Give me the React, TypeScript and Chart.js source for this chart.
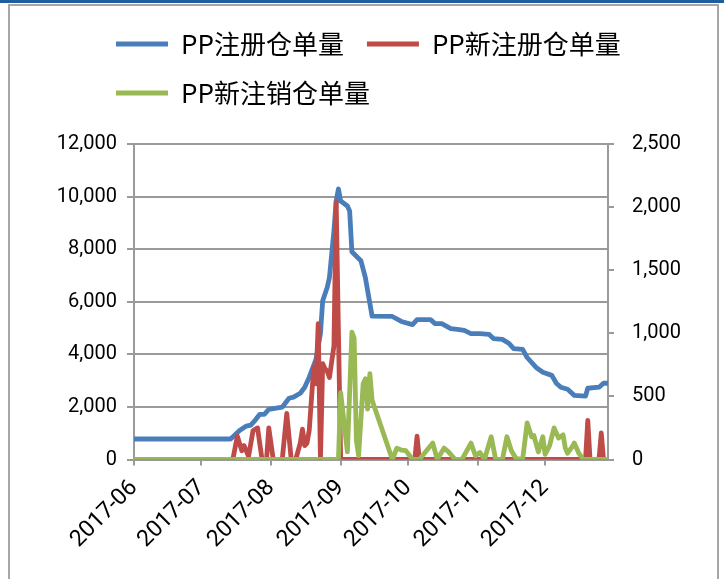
import React, { useEffect, useRef } from "react";
import { Chart, registerables } from "chart.js";

Chart.register(...registerables);

// ---- data ----
const monthStarts = ["2017-06-01", "2017-07-01", "2017-08-01", "2017-09-01", "2017-10-01", "2017-11-01", "2017-12-01"];
const monthLabels = ["2017-06", "2017-07", "2017-08", "2017-09", "2017-10", "2017-11", "2017-12"];
const axisStart = "2017-06-01";
const axisEnd = "2017-12-29";

const leftTickLabels = ["0", "2,000", "4,000", "6,000", "8,000", "10,000", "12,000"];
const rightTickLabels = ["0", "500", "1,000", "1,500", "2,000", "2,500"];

const seriesNames = ["PP注册仓单量", "PP新注册仓单量", "PP新注销仓单量"];

// PP注册仓单量 (left axis)
const regDates = [
  "2017-06-01", "2017-07-14", "2017-07-18", "2017-07-21", "2017-07-23", "2017-07-25", "2017-07-27", "2017-07-29",
  "2017-07-31", "2017-08-06", "2017-08-09", "2017-08-11", "2017-08-14", "2017-08-16", "2017-08-18", "2017-08-20",
  "2017-08-21", "2017-08-23", "2017-08-24", "2017-08-26", "2017-08-27", "2017-08-29", "2017-08-30", "2017-08-31",
  "2017-09-01", "2017-09-04", "2017-09-05", "2017-09-06", "2017-09-10", "2017-09-12", "2017-09-13", "2017-09-15",
  "2017-09-24", "2017-09-28", "2017-10-03", "2017-10-05", "2017-10-11", "2017-10-13", "2017-10-16", "2017-10-20",
  "2017-10-23", "2017-10-26", "2017-10-29", "2017-11-02", "2017-11-06", "2017-11-08", "2017-11-12", "2017-11-15",
  "2017-11-17", "2017-11-21", "2017-11-23", "2017-11-27", "2017-11-30", "2017-12-04", "2017-12-06", "2017-12-08",
  "2017-12-11", "2017-12-14", "2017-12-19", "2017-12-20", "2017-12-25", "2017-12-27", "2017-12-29",
];
const regValues = [
  780, 780, 1100, 1270, 1310, 1500, 1720, 1720,
  1910, 1990, 2330, 2370, 2520, 2750, 3130, 3580,
  3810, 4790, 6040, 6540, 6920, 8700, 9830, 10290,
  9830, 9640, 9450, 7900, 7560, 6920, 6420, 5450,
  5440, 5250, 5130, 5320, 5320, 5170, 5170, 4980,
  4950, 4910, 4790, 4790, 4760, 4600, 4570, 4410,
  4220, 4190, 3880, 3500, 3320, 3200, 2900, 2750,
  2670, 2440, 2410, 2710, 2750, 2900, 2900,
];

// PP新注册仓单量 (right axis)
const newRegDates = [
  "2017-06-01", "2017-07-15", "2017-07-17", "2017-07-19", "2017-07-20", "2017-07-22", "2017-07-24", "2017-07-26",
  "2017-07-28", "2017-07-30", "2017-07-31", "2017-08-02", "2017-08-06", "2017-08-08", "2017-08-10", "2017-08-12",
  "2017-08-14", "2017-08-15", "2017-08-16", "2017-08-17", "2017-08-18", "2017-08-20", "2017-08-21", "2017-08-22",
  "2017-08-23", "2017-08-24", "2017-08-25", "2017-08-26", "2017-08-27", "2017-08-29", "2017-08-30", "2017-09-01",
  "2017-10-04", "2017-10-05", "2017-10-06", "2017-12-19", "2017-12-20", "2017-12-21", "2017-12-25", "2017-12-26",
  "2017-12-27", "2017-12-29",
];
const newRegValues = [
  0, 0, 185, 70, 110, 25, 230, 250,
  0, 0, 250, 0, 0, 365, 0, 0,
  130, 240, 110, 130, 230, 730, 600, 1076,
  0, 760, 720, 700, 650, 900, 2040, 0,
  0, 185, 0, 0, 310, 0, 0, 210,
  0, 0,
];

// PP新注销仓单量 (right axis)
const cancelDates = [
  "2017-06-01", "2017-08-31", "2017-09-01", "2017-09-02", "2017-09-04", "2017-09-06", "2017-09-07", "2017-09-08",
  "2017-09-09", "2017-09-11", "2017-09-12", "2017-09-13", "2017-09-14", "2017-09-15", "2017-09-24", "2017-09-26",
  "2017-09-28", "2017-09-30", "2017-10-03", "2017-10-06", "2017-10-12", "2017-10-14", "2017-10-17", "2017-10-19",
  "2017-10-22", "2017-10-25", "2017-10-29", "2017-10-31", "2017-11-02", "2017-11-04", "2017-11-07", "2017-11-09",
  "2017-11-12", "2017-11-14", "2017-11-16", "2017-11-18", "2017-11-21", "2017-11-23", "2017-11-25", "2017-11-26",
  "2017-11-28", "2017-11-30", "2017-12-01", "2017-12-03", "2017-12-05", "2017-12-07", "2017-12-09", "2017-12-10",
  "2017-12-11", "2017-12-13", "2017-12-14", "2017-12-16", "2017-12-18", "2017-12-29",
];
const cancelValues = [
  0, 0, 530, 370, 60, 1010, 960, 150,
  30, 600, 640, 400, 680, 470, 0, 90,
  75, 70, 0, 0, 130, 0, 90, 60,
  0, 0, 130, 30, 55, 0, 180, 0,
  0, 180, 70, 10, 0, 290, 180, 190,
  60, 180, 40, 110, 250, 170, 195, 90,
  50, 100, 130, 50, 0, 0,
];

// ---- helpers ----
const BASE = (() => {
  const [y, m, d] = axisStart.split("-").map(Number);
  return Date.UTC(y, m - 1, d);
})();
const toDay = (s: string) => {
  const [y, m, d] = s.split("-").map(Number);
  return (Date.UTC(y, m - 1, d) - BASE) / 86400000;
};
const pts = (dates: string[], vals: number[]) => dates.map((d, i) => ({ x: toDay(d), y: vals[i] }));

const GRID = "#9a9a9a";
const NUM_FONT = { family: 'Roboto, "Liberation Sans", sans-serif', size: 20 };
const LEGEND_SHIFT = 93;

const legendShift = {
  id: "legendShift",
  afterLayout(chart: any) {
    const lg = chart.legend;
    if (lg) {
      lg.left += LEGEND_SHIFT;
      lg.right += LEGEND_SHIFT;
    }
  },
};

export default function App() {
  const ref = useRef<HTMLCanvasElement>(null);

  useEffect(() => {
    const monthDays = monthStarts.map(toDay);
    const chart = new Chart(ref.current as HTMLCanvasElement, {
      type: "line",
      data: {
        datasets: [
          {
            label: seriesNames[0],
            data: pts(regDates, regValues),
            borderColor: "#4A7EBB",
            backgroundColor: "#4A7EBB",
            borderWidth: 4.8,
            yAxisID: "y",
            order: 3,
          },
          {
            label: seriesNames[1],
            data: pts(newRegDates, newRegValues),
            borderColor: "#BE4B48",
            backgroundColor: "#BE4B48",
            borderWidth: 4.8,
            yAxisID: "y1",
            order: 2,
          },
          {
            label: seriesNames[2],
            data: pts(cancelDates, cancelValues),
            borderColor: "#98B954",
            backgroundColor: "#98B954",
            borderWidth: 4.8,
            yAxisID: "y1",
            order: 1,
          },
        ],
      },
      plugins: [legendShift],
      options: {
        animation: false,
        responsive: false,
        maintainAspectRatio: false,
        elements: {
          line: { tension: 0, borderCapStyle: "round", borderJoinStyle: "round" },
          point: { radius: 0, hoverRadius: 0 },
        },
        layout: { padding: { top: 8, left: 0, right: 10, bottom: 0 } },
        plugins: {
          legend: {
            position: "top",
            align: "start",
            labels: {
              usePointStyle: true,
              pointStyle: "line",
              pointStyleWidth: 52,
              padding: 23,
              color: "#000",
              font: { family: '"Noto Sans CJK SC", sans-serif', size: 26 },
              sort: (a: any, b: any) => a.datasetIndex - b.datasetIndex,
            },
          },
          subtitle: {
            display: true,
            text: "",
            position: "top",
            weight: 500,
            font: { size: 10 },
            padding: { top: 16, bottom: 0 },
          },
          tooltip: { enabled: false },
        },
        scales: {
          x: {
            type: "linear",
            min: toDay(axisStart),
            max: toDay(axisEnd),
            afterBuildTicks: (axis: any) => {
              axis.ticks = monthDays.map((v) => ({ value: v }));
            },
            afterFit: (axis: any) => {
              axis.height = 119.5;
            },
            ticks: {
              autoSkip: false,
              minRotation: 45,
              maxRotation: 45,
              padding: 9,
              color: "#000",
              font: { family: 'Roboto, "Liberation Sans", sans-serif', size: 23 },
              callback: (value: any) => {
                const i = monthDays.indexOf(Number(value));
                return i >= 0 ? monthLabels[i] : "";
              },
            },
            grid: { drawOnChartArea: false, drawTicks: true, tickLength: 6, color: GRID, lineWidth: 2 },
            border: { color: GRID, width: 2 },
          },
          y: {
            position: "left",
            min: 0,
            max: 12000,
            afterFit: (axis: any) => {
              axis.width = 134;
            },
            ticks: {
              stepSize: 2000,
              padding: 10,
              color: "#000",
              font: NUM_FONT,
              callback: (_v: any, i: number) => leftTickLabels[i],
            },
            grid: { color: GRID, lineWidth: 2, tickLength: 7 },
            border: { color: GRID, width: 2 },
          },
          y1: {
            position: "right",
            min: 0,
            max: 2500,
            afterFit: (axis: any) => {
              axis.width = 106;
            },
            ticks: {
              stepSize: 500,
              padding: 18,
              color: "#000",
              font: NUM_FONT,
              callback: (_v: any, i: number) => rightTickLabels[i],
            },
            grid: { drawOnChartArea: false, color: GRID, lineWidth: 2, tickLength: 6 },
            border: { color: GRID, width: 2 },
          },
        },
      },
    } as any);
    return () => chart.destroy();
  }, []);

  return (
    <div style={{ position: "fixed", left: 0, top: 0, width: 724, height: 579, background: "#fff", overflow: "hidden" }}>
      <div style={{ position: "absolute", left: 0, top: 0, width: 724, height: 3, background: "#1F5FA0" }} />
      <div
        style={{
          position: "absolute",
          left: 8,
          top: 4,
          width: 711,
          height: 640,
          border: "2px solid #A6A6A6",
          boxSizing: "border-box",
        }}
      />
      <canvas ref={ref} width={724} height={579} style={{ position: "absolute", left: 0, top: 0 }} />
    </div>
  );
}
